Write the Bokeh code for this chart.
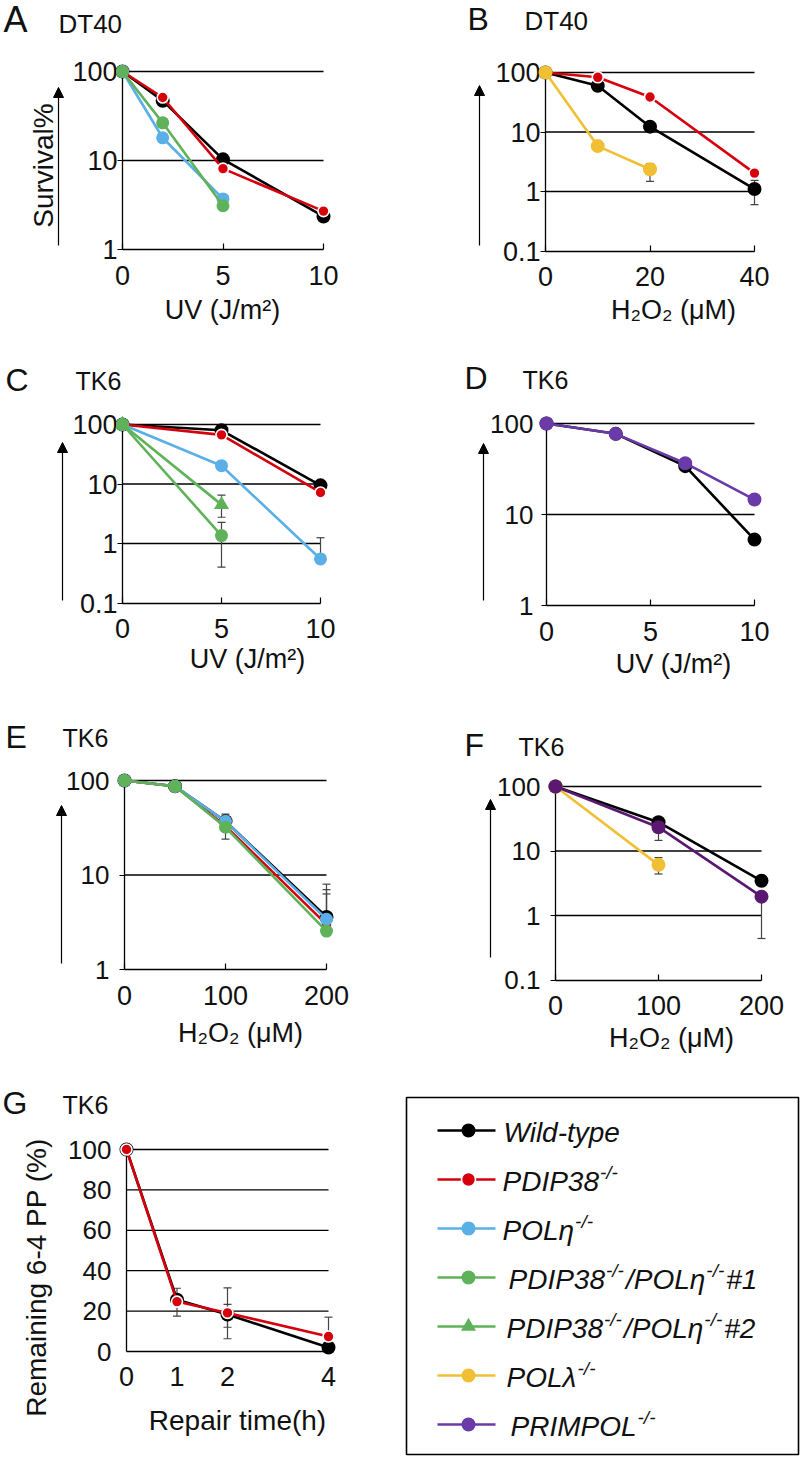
import math
from bokeh.plotting import figure
from bokeh.layouts import row, column
from bokeh.models import (Range1d, FixedTicker, PrintfTickFormatter, Arrow, NormalHead,
                          Whisker, TeeHead, ColumnDataSource, Label, BoxAnnotation)
from bokeh.core.properties import value
from bokeh.embed import file_html
from bokeh.resources import INLINE

FONT = "Liberation Sans"
TXT = "#111111"

# ---------------- colours ----------------
C_WT = "#000000"
C_PDIP = "#d6000d"
C_ETA = "#5aafe6"
C_DKO = "#5fb259"
C_LAM = "#f0bf33"
C_PRIM = "#6a3aa8"
C_PRIM_F = "#5b1870"
C_ERR = "#444444"

# ---------------- data ----------------
# A  DT40, UV
A_x = [0, 2, 5, 10]
A_wt = [100, 47, 10.3, 2.35]
A_pdip = [100, 51, 8.1, 2.7]
A_x3 = [0, 2, 5]
A_eta = [100, 18, 3.7]
A_dko1 = [100, 26.5, 3.1]

# B  DT40, H2O2
B_x = [0, 10, 20, 40]
B_wt = [100, 60, 12.3, 1.1]
B_pdip = [100, 83, 38.7, 2.04]
B_x3 = [0, 10, 20]
B_lam = [100, 5.8, 2.36]
B_err_x = [20, 40, 20]
B_err_lo = [9.8, 0.6, 1.48]
B_err_hi = [12.3, 1.54, 2.95]

# C  TK6, UV
C_x = [0, 5, 10]
C_wt = [100, 80, 9.5]
C_pdip = [100, 67, 7.2]
C_eta = [100, 20.3, 0.55]
C_x2 = [0, 5]
C_dko1 = [100, 1.36]
C_dko2 = [100, 4.5]
C_err_x = [10, 5, 5]
C_err_lo = [0.55, 0.40, 2.76]
C_err_hi = [1.25, 2.27, 6.5]

# D  TK6, UV
D_x = [0, 3.33, 6.67, 10]
D_wt = [100, 77, 34, 5.3]
D_prim = [100, 77, 36.6, 14.6]

# E  TK6, H2O2
E_x = [0, 50, 100, 200]
E_wt = [100, 87, 37, 3.6]
E_pdip = [100, 87, 33, 3.0]
E_eta = [100, 87, 37, 3.4]
E_dko1 = [100, 87, 32, 2.55]
E_err_x = [100, 100, 200, 200, 200]
E_err_lo = [37, 24, 3.6, 3.4, 3.0]
E_err_hi = [44, 32, 8.0, 7.0, 6.3]

# F  TK6, H2O2
F_x = [0, 100, 200]
F_wt = [100, 28, 3.45]
F_x2 = [0, 100]
F_lam = [100, 6.1]
F_prim = [100, 23.4, 1.96]
F_err_x = [100, 100, 100, 200]
F_err_lo = [28, 14.6, 4.4, 0.44]
F_err_hi = [32.6, 23.4, 7.9, 1.96]

# G  TK6, 6-4PP repair
G_x = [0, 1, 2, 4]
G_wt = [100, 25.6, 18.3, 2.0]
G_pdip = [100, 24.7, 19.1, 7.4]
G_err_x = [1, 2, 2, 4]
G_err_lo = [17.5, 6.3, 12.0, 7.4]
G_err_hi = [31.3, 31.5, 23.3, 17.0]

# tick lists
TICK_UV = [0, 5, 10]
TICK_B = [0, 20, 40]
TICK_H = [0, 100, 200]
TICK_G = [0, 1, 2, 4]
LOG3 = [1, 10, 100]
LOG4 = [0.1, 1, 10, 100]
LIN_G = [0, 20, 40, 60, 80, 100]

# legend
LEG_PARTS = [
    [("Wild-type", 0)],
    [("PDIP38", 0), ("-/-", 1)],
    [("POL\u03b7", 0), ("-/-", 1)],
    [("PDIP38", 0), ("-/-", 1), ("/POL\u03b7", 0), ("-/-", 1), (" #1", 0)],
    [("PDIP38", 0), ("-/-", 1), ("/POL\u03b7", 0), ("-/-", 1), (" #2", 0)],
    [("POL\u03bb", 0), ("-/-", 1)],
    [("PRIMPOL", 0), ("-/-", 1)],
]
LEG_COLORS = [C_WT, C_PDIP, C_ETA, C_DKO, C_DKO, C_LAM, C_PRIM]
LEG_MARKERS = ["circle", "circle", "circle", "circle", "triangle", "circle", "circle"]
LEG_OUTLINE = [None, "white", None, None, None, None, None]
LEG_TEXT_X = [503, 502, 502, 508, 506, 506, 510]

# ---------------- helpers ----------------
class Panel:
    def __init__(self, box, xmap, ymap, ylog):
        self.ox, self.oy, self.w, self.h = box
        xa_px, xa_v, xb_px, xb_v = xmap
        self.xa_px, self.xa_v = xa_px, xa_v
        self.sx = (xb_px - xa_px) / (xb_v - xa_v)
        ya_px, ya_v, yb_px, yb_v = ymap
        self.ylog = ylog
        self.ya_px = ya_px
        if ylog:
            self.ya_v = math.log10(ya_v)
            self.ky = (ya_px - yb_px) / (math.log10(yb_v) - math.log10(ya_v))
        else:
            self.ya_v = ya_v
            self.ky = (ya_px - yb_px) / (yb_v - ya_v)

    def X(self, px):
        return self.xa_v + (px - self.xa_px) / self.sx

    def Y(self, py):
        v = self.ya_v + (self.ya_px - py) / self.ky
        return 10 ** v if self.ylog else v

    def fig(self):
        p = figure(width=self.w, height=self.h,
                   x_range=Range1d(self.X(self.ox), self.X(self.ox + self.w)),
                   y_range=Range1d(self.Y(self.oy + self.h), self.Y(self.oy)),
                   y_axis_type="log" if self.ylog else "linear",
                   toolbar_location=None, output_backend="svg",
                   min_border=0, min_border_left=0, min_border_right=0,
                   min_border_top=0, min_border_bottom=0)
        p.outline_line_color = None
        p.xgrid.visible = False
        p.ygrid.visible = False
        p.background_fill_color = "white"
        p.border_fill_color = "white"
        return p


def setup_axes(p, xticks, yticks, ylab_size, ystand, ytick_out=5, xtick_in=6, xstand=16):
    xa = p.xaxis[0]
    ya = p.yaxis[0]
    for ax in (xa, ya):
        ax.axis_line_color = "black"
        ax.axis_line_width = 1.3
        ax.major_tick_line_color = "black"
        ax.major_tick_line_width = 1.2
        ax.minor_tick_line_color = None
        ax.major_label_text_font = FONT
        ax.major_label_text_color = TXT
        ax.formatter = PrintfTickFormatter(format="%g")
        ax.level = "underlay"
    xa.ticker = FixedTicker(ticks=xticks)
    xa.fixed_location = yticks[0]
    xa.bounds = (xticks[0], xticks[-1])
    xa.major_tick_in = xtick_in
    xa.major_tick_out = 0
    xa.major_label_standoff = xstand
    xa.major_label_text_font_size = "27px"
    ya.ticker = FixedTicker(ticks=yticks)
    ya.fixed_location = xticks[0]
    ya.bounds = (yticks[0], yticks[-1])
    ya.major_tick_in = 0
    ya.major_tick_out = ytick_out
    ya.major_label_standoff = ystand
    ya.major_label_text_font_size = ylab_size
    # horizontal gridlines
    g = yticks[1:]
    p.segment(x0=[xticks[0]] * len(g), x1=[xticks[-1]] * len(g), y0=g, y1=g,
              line_color="black", line_width=1.3, level="underlay")


def series(p, x, y, color, marker="circle", size=13, outline=None, lw=2.6):
    p.line(x, y, line_color=color, line_width=lw)
    p.scatter(x, y, marker=marker, size=size, fill_color=color,
              line_color=outline if outline else None, line_width=1.6 if outline else 0)


def errors(p, xs, lo, hi):
    src = ColumnDataSource(dict(x=xs, lo=lo, hi=hi))
    w = Whisker(source=src, base="x", lower="lo", upper="hi", dimension="height",
                line_color=C_ERR, line_width=1.2, level="underlay",
                upper_head=TeeHead(size=8, line_color=C_ERR, line_width=1.2),
                lower_head=TeeHead(size=8, line_color=C_ERR, line_width=1.2))
    p.add_layout(w)


def text(p, P, s, px, py, size, align="left", angle=0.0):
    # py is the visual vertical centre of the text
    p.add_layout(Label(x=P.X(px), y=P.Y(py), text=s, text_font=FONT, text_font_size=size,
                       text_color=TXT, text_align=align, text_baseline="middle", angle=angle))


def arrow(p, P, px, py0, py1):
    p.add_layout(Arrow(x_start=P.X(px), y_start=P.Y(py0), x_end=P.X(px), y_end=P.Y(py1),
                       line_color="black", line_width=1.2,
                       end=NormalHead(size=10, fill_color="black", line_color="black", line_width=1)))


UV = "UV (J/m\u00b2)"
H2O2 = "H\u2082O\u2082 (\u03bcM)"

ROW_Y = [0, 340, 700, 1070, 1456]

# ---------------- Panel A ----------------
PA = Panel((0, ROW_Y[0], 400, ROW_Y[1] - ROW_Y[0]), (122, 0, 323, 10), (249, 1, 71, 100), True)
pA = PA.fig()
setup_axes(pA, TICK_UV, LOG3, "27px", 0)
series(pA, A_x, A_wt, C_WT, size=14)
series(pA, A_x, A_pdip, C_PDIP, size=11, outline="white")
series(pA, A_x3, A_eta, C_ETA)
series(pA, A_x3, A_dko1, C_DKO)
text(pA, PA, "A", 3, 19, "36px")
text(pA, PA, "DT40", 58, 23, "26px")
text(pA, PA, UV, 222, 309, "27px", align="center")
text(pA, PA, "Survival%", 43, 165, "28px", align="center", angle=math.pi / 2)
arrow(pA, PA, 58, 245, 87)

# ---------------- Panel B ----------------
PB = Panel((400, ROW_Y[0], 400, ROW_Y[1] - ROW_Y[0]), (545, 0, 754, 40), (191, 1, 72, 100), True)
pB = PB.fig()
setup_axes(pB, TICK_B, LOG4, "27px", 0)
errors(pB, B_err_x, B_err_lo, B_err_hi)
series(pB, B_x, B_wt, C_WT, size=14)
series(pB, B_x, B_pdip, C_PDIP, size=11, outline="white")
series(pB, B_x3, B_lam, C_LAM, size=14)
text(pB, PB, "B", 467, 18, "32px")
text(pB, PB, "DT40", 524, 20, "26px")
text(pB, PB, H2O2, 673, 309, "27px", align="center")
arrow(pB, PB, 479, 245, 85)

# ---------------- Panel C ----------------
PC = Panel((0, ROW_Y[1], 400, ROW_Y[2] - ROW_Y[1]), (122, 0, 320, 10), (543, 1, 424, 100), True)
pC = PC.fig()
setup_axes(pC, TICK_UV, LOG4, "27px", 0)
errors(pC, C_err_x, C_err_lo, C_err_hi)
series(pC, C_x, C_wt, C_WT, size=14)
series(pC, C_x, C_pdip, C_PDIP, size=11, outline="white")
series(pC, C_x, C_eta, C_ETA)
series(pC, C_x2, C_dko1, C_DKO)
series(pC, C_x2, C_dko2, C_DKO, marker="triangle", size=15)
text(pC, PC, "C", 5, 379, "32px")
text(pC, PC, "TK6", 75, 380, "25px")
text(pC, PC, UV, 247, 658, "27px", align="center")
arrow(pC, PC, 62, 600, 442)

# ---------------- Panel D ----------------
PD = Panel((400, ROW_Y[1], 400, ROW_Y[2] - ROW_Y[1]), (546, 0, 754, 10), (605, 1, 423, 100), True)
pD = PD.fig()
setup_axes(pD, TICK_UV, LOG3, "26px", 8)
series(pD, D_x, D_wt, C_WT, size=14)
series(pD, D_x, D_prim, C_PRIM, size=14)
text(pD, PD, "D", 464, 377, "32px")
text(pD, PD, "TK6", 522, 379, "25px")
text(pD, PD, UV, 673, 663, "27px", align="center")
arrow(pD, PD, 483, 600, 443)

# ---------------- Panel E ----------------
PE = Panel((0, ROW_Y[2], 400, ROW_Y[3] - ROW_Y[2]), (124, 0, 326, 200), (969, 1, 780, 100), True)
pE = PE.fig()
setup_axes(pE, TICK_H, LOG3, "26px", 10)
errors(pE, E_err_x, E_err_lo, E_err_hi)
series(pE, E_x, E_wt, C_WT, size=14)
series(pE, E_x, E_pdip, C_PDIP, size=11, outline="white")
series(pE, E_x, E_eta, C_ETA)
series(pE, E_x, E_dko1, C_DKO)
text(pE, PE, "E", 5, 736, "32px")
text(pE, PE, "TK6", 62, 737, "25px")
text(pE, PE, H2O2, 240, 1032, "27px", align="center")
arrow(pE, PE, 61, 963, 805)

# ---------------- Panel F ----------------
PF = Panel((400, ROW_Y[2], 400, ROW_Y[3] - ROW_Y[2]), (555, 0, 761, 200), (915, 1, 786, 100), True)
pF = PF.fig()
setup_axes(pF, TICK_H, LOG4, "26px", 10)
errors(pF, F_err_x, F_err_lo, F_err_hi)
series(pF, F_x, F_wt, C_WT, size=14)
series(pF, F_x2, F_lam, C_LAM, size=14)
series(pF, F_x, F_prim, C_PRIM_F, size=14)
text(pF, PF, "F", 464, 744, "32px")
text(pF, PF, "TK6", 518, 746, "25px")
text(pF, PF, H2O2, 671, 1037, "27px", align="center")
arrow(pF, PF, 490, 957, 799)

# ---------------- Panel G ----------------
PG = Panel((0, ROW_Y[3], 400, ROW_Y[4] - ROW_Y[3]), (126, 0, 328, 4), (1351, 0, 1149, 100), False)
pG = PG.fig()
setup_axes(pG, TICK_G, LIN_G, "26px", 15, ytick_out=0, xtick_in=0, xstand=15)
errors(pG, G_err_x, G_err_lo, G_err_hi)
series(pG, G_x, G_wt, C_WT, size=14)
series(pG, G_x, G_pdip, C_PDIP, size=11, outline="white")
text(pG, PG, "G", 2, 1102, "32px")
text(pG, PG, "TK6", 62, 1104, "25px")
text(pG, PG, "Repair time(h)", 237, 1420, "28px", align="center")
text(pG, PG, "Remaining 6-4 PP (%)", 36, 1277, "28px", align="center", angle=math.pi / 2)

# ---------------- Legend ----------------
LOX, LOY = 400, ROW_Y[3]
LW, LH = 400, ROW_Y[4] - ROW_Y[3]
pL = figure(width=LW, height=LH, x_range=Range1d(0, LW), y_range=Range1d(LH, 0),
            toolbar_location=None, output_backend="svg", min_border=0,
            x_axis_location=None, y_axis_location=None)
pL.outline_line_color = None
pL.xgrid.visible = False
pL.ygrid.visible = False
pL.add_layout(BoxAnnotation(left=406 - LOX, right=798 - LOX, top=1097 - LOY, bottom=1454 - LOY,
                            fill_color=None, fill_alpha=0, line_color="black", line_alpha=1.0,
                            line_width=1.6))

AW = {'W': 944, 'i': 222, 'l': 222, 'd': 556, '-': 333, 't': 278, 'y': 500, 'p': 556, 'e': 556,
      'P': 667, 'D': 722, 'I': 278, '3': 556, '8': 556, 'O': 778, 'L': 556, '\u03b7': 556,
      '\u03bb': 500, 'R': 722, 'M': 833, '/': 278, '#': 556, '1': 556, '2': 556, ' ': 278}


def tw(s, size):
    return sum(AW.get(c, 556) for c in s) / 1000.0 * size


n = len(LEG_PARTS)
ys = [1130 - LOY + i * 49 for i in range(n)]
pL.segment(x0=[437 - LOX] * n, x1=[495 - LOX] * n, y0=ys, y1=ys, line_color=LEG_COLORS, line_width=2.6)
for i in range(n):
    oc = LEG_OUTLINE[i]
    pL.scatter([468 - LOX], [ys[i]], marker=LEG_MARKERS[i], size=15 if LEG_MARKERS[i] == "triangle" else 14,
               fill_color=LEG_COLORS[i], line_color=oc if oc else None, line_width=1.6 if oc else 0)

main_x, main_y, main_t, sup_x, sup_y, sup_t = [], [], [], [], [], []
for i, parts in enumerate(LEG_PARTS):
    cx = LEG_TEXT_X[i] - LOX
    for s, is_sup in parts:
        if is_sup:
            sup_x.append(cx + 1)
            sup_y.append(ys[i] - 7)
            sup_t.append(s)
            cx += tw(s, 19) + 3
        else:
            main_x.append(cx)
            main_y.append(ys[i] + 2)
            main_t.append(s)
            cx += tw(s, 28)
pL.text(x=main_x, y=main_y, text=main_t, text_font=value(FONT), text_font_style="italic",
        text_font_size="28px", text_baseline="middle", text_color=TXT)
pL.text(x=sup_x, y=sup_y, text=sup_t, text_font=value(FONT), text_font_style="italic",
        text_font_size="19px", text_baseline="middle", text_color=TXT)

layout = column(row(pA, pB), row(pC, pD), row(pE, pF), row(pG, pL))
open("out.html", "w").write(file_html(layout, INLINE))
